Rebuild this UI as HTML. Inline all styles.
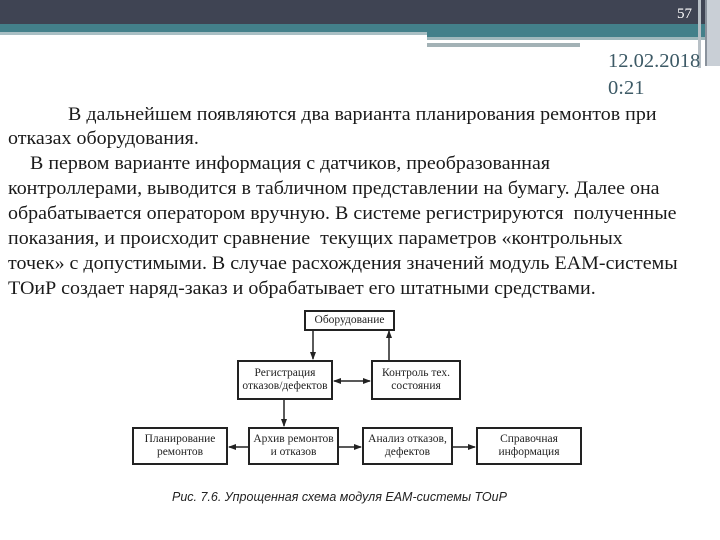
<!DOCTYPE html>
<html><head><meta charset="utf-8"><style>
body{margin:0;width:720px;height:540px;overflow:hidden;background:#fff;position:relative;font-family:"Liberation Serif","DejaVu Serif",serif}
.a{position:absolute}
.l{position:absolute;left:8px;font-size:18.5px;color:#1a1a1a;white-space:nowrap;line-height:20px;transform:scaleX(1.08);transform-origin:0 0}
.b{position:absolute;border:2px solid #222;background:#fff;box-sizing:border-box;display:flex;align-items:center;justify-content:center;text-align:center;font-size:11.5px;line-height:13px;color:#222}
</style></head><body>
<div class="a" style="left:0;top:0;width:720px;height:24px;background:#3f4453"></div>
<div class="a" style="left:0;top:24px;width:720px;height:8px;background:#43808a"></div>
<div class="a" style="left:0;top:32px;width:428px;height:3px;background:#a9bfc4"></div>
<div class="a" style="left:427px;top:32px;width:280px;height:5px;background:#43808a"></div>
<div class="a" style="left:427px;top:37px;width:280px;height:3px;background:#9fb8bc"></div>
<div class="a" style="left:427px;top:40px;width:240px;height:3px;background:#fff"></div>
<div class="a" style="left:427px;top:43px;width:153px;height:4px;background:#a3b2b6"></div>
<div class="a" style="left:698px;top:0;width:3px;height:68px;background:#b8c0c6"></div>
<div class="a" style="left:706px;top:0;width:14px;height:66px;background:#c9cfd6"></div>
<div class="a" style="left:705px;top:0;width:2px;height:66px;background:#8a929c"></div>
<div class="a" style="left:677px;top:6px;color:#fff;font-size:15px">57</div>
<div class="a" style="left:608px;top:48px;color:#3d5a66;font-size:20.5px;line-height:27px">12.02.2018<br>0:21</div>
<div class="l" style="top:105px;left:68px">В дальнейшем появляются два варианта планирования ремонтов при</div>
<div class="l" style="top:129px">отказах оборудования.</div>
<div class="l" style="top:154px;left:30px">В первом варианте информация с датчиков, преобразованная</div>
<div class="l" style="top:179px">контроллерами, выводится в табличном представлении на бумагу. Далее она</div>
<div class="l" style="top:204px">обрабатывается оператором вручную. В системе регистрируются &nbsp;полученные</div>
<div class="l" style="top:229px">показания, и происходит сравнение &nbsp;текущих параметров «контрольных</div>
<div class="l" style="top:254px">точек» с допустимыми. В случае расхождения значений модуль EAM-системы</div>
<div class="l" style="top:279px">ТОиР создает наряд-заказ и обрабатывает его штатными средствами.</div>
<div class="a" style="left:128px;top:299px;width:450px;height:175px;background:#fff"></div>
<svg class="a" style="left:0;top:0" width="720" height="540">
<defs><marker id="m" markerWidth="8" markerHeight="8" refX="7" refY="4" orient="auto-start-reverse" markerUnits="userSpaceOnUse"><path d="M0,1 L8,4 L0,7z" fill="#222"/></marker></defs>
<g stroke="#222" stroke-width="1.5" fill="none">
<line x1="313" y1="330" x2="313" y2="359" marker-end="url(#m)"/>
<line x1="389" y1="360" x2="389" y2="331" marker-end="url(#m)"/>
<line x1="334" y1="381" x2="370" y2="381" marker-start="url(#m)" marker-end="url(#m)"/>
<line x1="284" y1="399" x2="284" y2="426" marker-end="url(#m)"/>
<line x1="248" y1="447" x2="229" y2="447" marker-end="url(#m)"/>
<line x1="339" y1="447" x2="361" y2="447" marker-end="url(#m)"/>
<line x1="453" y1="447" x2="475" y2="447" marker-end="url(#m)"/>
</g></svg>
<div class="b" style="left:304px;top:310px;width:91px;height:21px">Оборудование</div>
<div class="b" style="left:237px;top:360px;width:96px;height:40px">Регистрация<br>отказов/дефектов</div>
<div class="b" style="left:371px;top:360px;width:90px;height:40px">Контроль тех.<br>состояния</div>
<div class="b" style="left:132px;top:427px;width:96px;height:38px">Планирование<br>ремонтов</div>
<div class="b" style="left:248px;top:427px;width:91px;height:38px">Архив ремонтов<br>и отказов</div>
<div class="b" style="left:362px;top:427px;width:91px;height:38px">Анализ отказов,<br>дефектов</div>
<div class="b" style="left:476px;top:427px;width:106px;height:38px">Справочная<br>информация</div>
<div class="a" style="left:172px;top:490px;font-family:'Liberation Sans',sans-serif;font-style:italic;font-size:12.5px;color:#222">Рис. 7.6. Упрощенная схема модуля EAM-системы ТОиР</div>
</body></html>
